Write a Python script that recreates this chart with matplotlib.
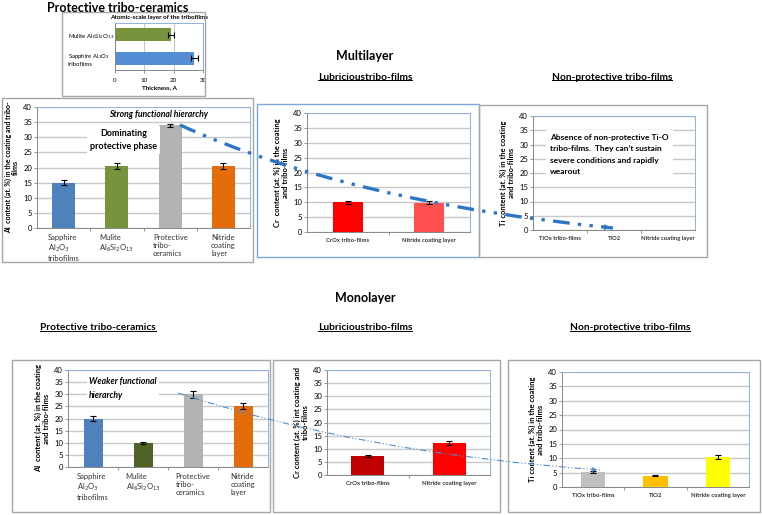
import numpy as np
import matplotlib
matplotlib.use("Agg")
import matplotlib.pyplot as plt
from matplotlib.patches import Rectangle, PathPatch, FancyArrowPatch
from matplotlib.path import Path
from matplotlib.lines import Line2D

plt.rcParams['font.family'] = ['Lato', 'DejaVu Sans']

W, H = 762, 515

# ---- data ----
inset_labels = ["Sapphire Al$_2$O$_3$\ntribofilms", "Mulite Al$_6$Si$_2$O$_{13}$"]
inset_vals = [27, 19]
inset_err = [1.2, 1.0]

al_labels = ["Sapphire\nAl$_2$O$_3$\ntribofilms", "Mulite\nAl$_6$Si$_2$O$_{13}$",
             "Protective\ntribo-\nceramics", "Nitride\ncoating\nlayer"]
al_multi = [15, 20.5, 34, 20.5]
al_multi_err = [0.8, 1.0, 0.5, 1.0]
al_mono = [20, 10, 30, 25]
al_mono_err = [1.0, 0.5, 1.5, 1.2]

cr_labels = ["CrOx tribo-films", "Nitride coating layer"]
cr_multi = [10, 9.8]
cr_multi_err = [0.5, 0.5]
cr_mono = [7.2, 12.3]
cr_mono_err = [0.4, 0.7]

ti_labels = ["TiOx tribo-films", "TiO2", "Nitride coating layer"]
ti_mono = [5.2, 4.0, 10.5]
ti_mono_err = [0.3, 0.3, 0.6]

yticks = [0, 5, 10, 15, 20, 25, 30, 35, 40]


def fx(px):
    return px / W


def fy(py):
    return 1 - py / H


def add_ax(x0, y0, x1, y1):
    return fig.add_axes([fx(x0), fy(y1), (x1 - x0) / W, (y1 - y0) / H])


def box(x0, y0, x1, y1, color='#a6a6a6'):
    fig.patches.append(Rectangle((fx(x0), fy(y1)), (x1 - x0) / W, (y1 - y0) / H,
                                 transform=fig.transFigure, fill=False,
                                 edgecolor=color, lw=1.0))


def style(ax, n, labels, xfs, xweight='normal'):
    ax.set_ylim(0, 40)
    ax.set_xlim(-0.5, n - 0.5)
    ax.set_yticks(yticks)
    ax.tick_params(axis='y', labelsize=5.5, length=2, width=0.6, color='#888888', pad=1.5)
    ax.set_xticks(range(n))
    ax.set_xticklabels(labels, fontsize=xfs, fontweight=xweight, color='#333333')
    ax.tick_params(axis='x', length=0, pad=4)
    ax.set_xticks(np.arange(0.5, n - 0.5, 1), minor=True)
    ax.tick_params(axis='x', which='minor', length=2, width=0.6, color='#888888')
    ax.grid(axis='y', color='#c8c8c8', lw=1.0)
    ax.set_axisbelow(True)
    for s in ['left', 'bottom']:
        ax.spines[s].set_color('#888888')
        ax.spines[s].set_linewidth(0.7)
    for s in ['top', 'right']:
        ax.spines[s].set_color('#8db3e2')
        ax.spines[s].set_linewidth(0.7)


def bars(ax, vals, err, colors, width):
    ax.bar(range(len(vals)), vals, width=width, color=colors, zorder=2,
           yerr=err, error_kw=dict(ecolor='black', elinewidth=0.8, capsize=2, capthick=0.8))


fig = plt.figure(figsize=(W / 100, H / 100), dpi=100)

# ---- outer boxes ----
box(62, 12, 205, 96)
box(2, 98, 253, 262)
box(257, 104, 479, 257, color='#7ea6d6')
box(479, 105, 707, 257)
box(12, 360, 270, 512)
box(273, 360, 500, 512)
box(508, 360, 760, 512)

# ---- inset ----
ax = add_ax(115, 23, 203, 70)
ax.barh(range(2), inset_vals, height=0.55, color=['#558ed5', '#77933c'], zorder=2,
        xerr=inset_err, error_kw=dict(ecolor='black', elinewidth=0.8, capsize=2, capthick=0.8))
ax.set_xlim(0, 30)
ax.set_ylim(-0.5, 1.5)
ax.set_xticks([0, 10, 20, 30])
ax.set_yticks(range(2))
ax.set_yticklabels(inset_labels, fontsize=4.3, ha='left', multialignment='left')
ax.tick_params(axis='y', length=0, pad=34)
ax.tick_params(axis='x', labelsize=4.5, length=2, width=0.6, color='#888888', pad=4)
ax.grid(axis='x', color='#c8c8c8', lw=0.8)
ax.set_axisbelow(True)
for s in ['left', 'bottom']:
    ax.spines[s].set_color('#888888')
    ax.spines[s].set_linewidth(0.7)
for s in ['top', 'right']:
    ax.spines[s].set_color('#8db3e2')
    ax.spines[s].set_linewidth(0.7)
ax.set_title("Atomic-scale layer of the tribofilms", fontsize=4.5, fontweight='bold', pad=3)
ax.set_xlabel("Thickness, A", fontsize=4.5, fontweight='bold', labelpad=1)

# ---- multilayer: Al ----
ax = add_ax(37, 107, 250, 228)
style(ax, 4, al_labels, 5.5)
for lab in ax.get_xticklabels():
    lab.set_multialignment('left')
bars(ax, al_multi, al_multi_err, ['#4f81bd', '#77933c', '#b3b3b3', '#e46c0a'], 0.43)
ax.set_ylabel("Al  content (at. %) in the coating and tribo-\nfilms", fontsize=5,
              fontweight='bold', labelpad=3, linespacing=1.0)
ax.text(1.78, 37.6, "Strong functional hierarchy", fontsize=6.2, fontweight='bold',
        fontstyle='italic', ha='center', va='center', zorder=3,
        bbox=dict(facecolor='white', edgecolor='none', pad=1.5))
ax.text(1.12, 29.2, "Dominating\nprotective phase", fontsize=6.5, fontweight='bold',
        ha='center', va='center', zorder=3, linespacing=1.6,
        bbox=dict(facecolor='white', edgecolor='none', pad=2))

# ---- multilayer: Cr ----
ax = add_ax(307, 113, 470, 232)
style(ax, 2, cr_labels, 4.2, 'bold')
bars(ax, cr_multi, cr_multi_err, ['#ff0000', '#ff5050'], 0.37)
ax.set_ylabel("Cr  content (at. %) in the coating\nand tribo-films", fontsize=5.5,
              fontweight='bold', labelpad=3, linespacing=1.1)

# ---- multilayer: Ti ----
ax = add_ax(533, 116, 695, 230)
style(ax, 3, ti_labels, 4.2, 'bold')
ax.set_ylabel("Ti content (at. %) in the coating\nand tribo-films", fontsize=5.5,
              fontweight='bold', labelpad=3, linespacing=1.1)
ax.text(-0.18, 26.5, "Absence of non-protective Ti-O\ntribo-films.  They can\u2019t sustain\n"
        "severe conditions and rapidly\nwearout", fontsize=6, fontweight='bold',
        ha='left', va='center', linespacing=1.7, zorder=3,
        bbox=dict(facecolor='white', edgecolor='none', pad=3))

# ---- monolayer: Al ----
ax = add_ax(68, 370, 268, 467)
style(ax, 4, al_labels, 5.5)
for lab in ax.get_xticklabels():
    lab.set_multialignment('left')
bars(ax, al_mono, al_mono_err, ['#4f81bd', '#4f6228', '#b3b3b3', '#e46c0a'], 0.38)
ax.set_ylabel("Al  content (at. %) in the coating\nand tribo-films", fontsize=5.5,
              fontweight='bold', labelpad=3, linespacing=1.1)
ax.text(-0.08, 32.4, "Weaker functional\nhierarchy", fontsize=6.2, fontweight='bold',
        fontstyle='italic', ha='left', va='center', linespacing=1.6, zorder=3,
        bbox=dict(facecolor='white', edgecolor='none', pad=1.5))

# ---- monolayer: Cr ----
ax = add_ax(327, 370, 490, 475)
style(ax, 2, cr_labels, 4.3, 'bold')
bars(ax, cr_mono, cr_mono_err, ['#c00000', '#ff0000'], 0.4)
ax.set_ylabel("Cr content (at. %) int coating and\ntribo-films", fontsize=5.5,
              fontweight='bold', labelpad=3, linespacing=1.1)

# ---- monolayer: Ti ----
ax = add_ax(562, 372, 749, 487)
style(ax, 3, ti_labels, 4.3, 'bold')
bars(ax, ti_mono, ti_mono_err, ['#bfbfbf', '#ffc000', '#ffff00'], 0.39)
ax.set_ylabel("Ti content (at. %) in the coating\nand tribo-films", fontsize=5.5,
              fontweight='bold', labelpad=3, linespacing=1.1)

# ---- titles ----
fig.text(fx(118), fy(8), "Protective tribo-ceramics", fontsize=9, fontweight='bold',
         ha='center', va='center')
fig.text(fx(365), fy(56), "Multilayer", fontsize=9, fontweight='bold', ha='center', va='center')
fig.text(fx(365), fy(298), "Monolayer", fontsize=9, fontweight='bold', ha='center', va='center')

underlined = [
    fig.text(fx(365), fy(77), "Lubricioustribo-films", fontsize=7.3, fontweight='bold',
             ha='center', va='center'),
    fig.text(fx(612), fy(77), "Non-protective tribo-films", fontsize=7.3, fontweight='bold',
             ha='center', va='center'),
    fig.text(fx(98), fy(328), "Protective tribo-ceramics", fontsize=7.3, fontweight='bold',
             ha='center', va='center'),
    fig.text(fx(365), fy(328), "Lubricioustribo-films", fontsize=7.3, fontweight='bold',
             ha='center', va='center'),
    fig.text(fx(630), fy(328), "Non-protective tribo-films", fontsize=7.3, fontweight='bold',
             ha='center', va='center'),
]
fig.canvas.draw()
inv = fig.transFigure.inverted()
for t in underlined:
    bb = t.get_window_extent().transformed(inv)
    fig.lines.append(Line2D([bb.x0, bb.x1], [bb.y0 + 0.002, bb.y0 + 0.002],
                            transform=fig.transFigure, color='black', lw=0.7))


# ---- trend arrows (quadratic curves in figure pixels) ----
def trend(p0, c, p2, color, lw, dashes, head):
    pts = [(fx(p[0]), fy(p[1])) for p in (p0, c, p2)]
    path = Path(pts, [Path.MOVETO, Path.CURVE3, Path.CURVE3])
    pp = PathPatch(path, transform=fig.transFigure, fill=False, edgecolor=color,
                   lw=lw, linestyle=(0, dashes), zorder=10)
    fig.patches.append(pp)
    d = np.array(pts[2]) - np.array(pts[1])
    d = d / np.hypot(*d) * 0.012
    fig.patches.append(FancyArrowPatch(tuple(np.array(pts[2]) - d), pts[2],
                                       transform=fig.transFigure, arrowstyle='-|>',
                                       mutation_scale=head, color=color, lw=0.5, zorder=11))


trend((180, 125), (350, 202), (613, 228), '#2e75c8', 2.4, (5, 2.5, 1, 2.5, 1, 2.5), 9)
trend((178, 393), (360, 453), (600, 470), '#4a90d0', 0.8, (6, 2, 1, 2, 1, 2), 7)

fig.savefig("out.png", dpi=100)
